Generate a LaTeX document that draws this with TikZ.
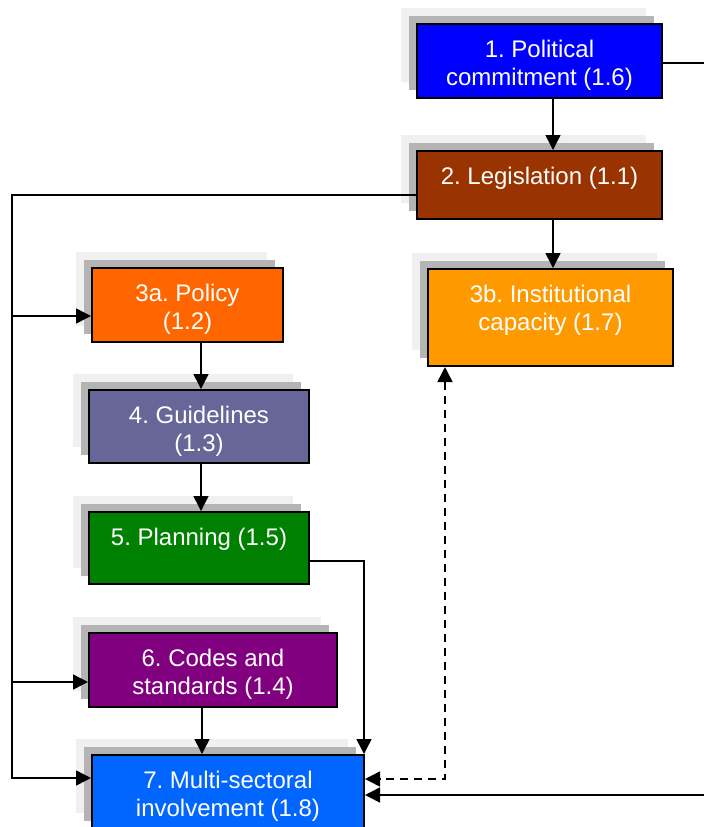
\documentclass[tikz,border=0pt]{standalone}
\usepackage{fontspec}
\setmainfont{Liberation Sans}
\frenchspacing
\usetikzlibrary{arrows.meta,shadows}
\definecolor{commit-blue}{HTML}{0000FF}
\definecolor{law-brown}{HTML}{993300}
\definecolor{policy-orange}{HTML}{FF6600}
\definecolor{capacity-orange}{HTML}{FF9900}
\definecolor{guide-grey}{HTML}{666699}
\definecolor{plan-green}{HTML}{008000}
\definecolor{code-purple}{HTML}{800080}
\definecolor{sector-blue}{HTML}{0066FF}
\definecolor{shade-dark}{HTML}{B4B4B4}
\definecolor{shade-light}{HTML}{F0F0F0}
\newlength{\basispx}
\setlength{\basispx}{0.5pt}

\begin{document}
\begin{tikzpicture}[
    >={Triangle[length=7.5pt,width=7.5pt]},
    block/.style={draw, line width=1pt,
        general shadow={shadow xshift=-8pt, shadow yshift=8pt, fill=shade-light},
        general shadow={shadow xshift=-4pt, shadow yshift=4pt, fill=shade-dark}},
    blocktext/.style={text=white, font=\fontsize{12}{14}\selectfont, align=center,
        inner sep=0pt, anchor=north, yshift=-8.5pt},
    link/.style={line width=0.75pt}]
    \useasboundingbox (0,0) rectangle (704\basispx,-827\basispx);

    \draw (539.5\basispx,-61\basispx)
		node[block, fill=commit-blue, minimum width=245\basispx, minimum height=74\basispx,
			label={[blocktext]north:1. Political\\commitment (1.6)}]
			(Commitment) {};

    \draw (539.5\basispx,-185\basispx)
		node[block, fill=law-brown, minimum width=245\basispx, minimum height=68\basispx,
			label={[blocktext]north:2. Legislation (1.1)}]
			(Legislation) {};

    \draw (187.5\basispx,-305\basispx)
		node[block, fill=policy-orange, minimum width=191\basispx, minimum height=74\basispx,
			label={[blocktext]north:3a. Policy\\(1.2)}]
			(Policy) {};

    \draw (550.5\basispx,-317.5\basispx)
		node[block, fill=capacity-orange, minimum width=245\basispx, minimum height=97\basispx,
			label={[blocktext]north:3b. Institutional\\capacity (1.7)}]
			(Capacity) {};

    \draw (199\basispx,-426.5\basispx)
		node[block, fill=guide-grey, minimum width=220\basispx, minimum height=73\basispx,
			label={[blocktext]north:4. Guidelines\\(1.3)}]
			(Guidelines) {};

    \draw (199\basispx,-548\basispx)
		node[block, fill=plan-green, minimum width=220\basispx, minimum height=72\basispx,
			label={[blocktext]north:5. Planning (1.5)}]
			(Planning) {};

    \draw (213\basispx,-670\basispx)
		node[block, fill=code-purple, minimum width=248\basispx, minimum height=74\basispx,
			label={[blocktext]north:6. Codes and\\standards (1.4)}]
			(Codes) {};

    \draw (228\basispx,-792\basispx)
		node[block, fill=sector-blue, minimum width=272\basispx, minimum height=74\basispx,
			label={[blocktext]north:7. Multi-sectoral\\involvement (1.8)}]
			(Involvement) {};

    \coordinate (LeftBus) at (12\basispx,-195\basispx);
    \coordinate (PolicyIn) at ([yshift=-11\basispx]Policy.west);
    \coordinate (CodesIn) at ([yshift=-12\basispx]Codes.west);

	\draw[->, link] ([xshift=13.5\basispx]Commitment.south) -- ([xshift=13.5\basispx]Legislation.north);
	\draw[->, link] ([xshift=13.5\basispx]Legislation.south) -- ([xshift=2.5\basispx]Capacity.north);
	\draw[->, link] ([yshift=-2\basispx]Commitment.east) -- ++(60\basispx,0) |- ([yshift=-3\basispx]Involvement.east);
	\draw[->, link] ([yshift=-10\basispx]Legislation.west) -- (LeftBus) |- ([yshift=14\basispx]Involvement.west);
	\draw[->, link] (LeftBus |- PolicyIn) -- (PolicyIn);
	\draw[->, link] (LeftBus |- CodesIn) -- (CodesIn);
	\draw[->, link] ([xshift=13.5\basispx]Policy.south) -- ([xshift=2\basispx]Guidelines.north);
	\draw[->, link] ([xshift=2\basispx]Guidelines.south) -- ([xshift=2\basispx]Planning.north);
	\draw[->, link] ([xshift=-11\basispx]Codes.south) -- ([xshift=-26\basispx]Involvement.north);
	\draw[->, link] ([yshift=-13\basispx]Planning.east) -| ([xshift=-1\basispx]Involvement.north east);
	\draw[<->, link, dash pattern=on 4pt off 3pt] ([xshift=-105.5\basispx]Capacity.south) |- ([yshift=13\basispx]Involvement.east);
\end{tikzpicture}
\end{document}
